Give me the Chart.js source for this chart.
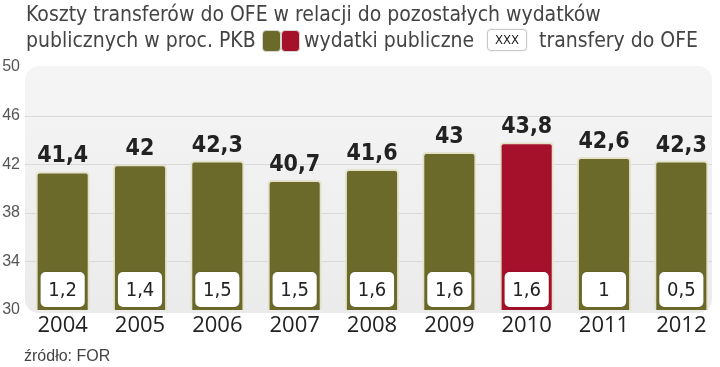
<!DOCTYPE html>
<html>
<head>
<meta charset="utf-8">
<script src="https://cdn.jsdelivr.net/npm/chart.js@4/dist/chart.umd.min.js"></script>
<style>
  html, body { margin: 0; padding: 0; background: #fff; }
  #wrap { position: relative; width: 720px; height: 367px; overflow: hidden; }
  canvas { position: absolute; left: 0; top: 0; }
  .t { position: absolute; white-space: nowrap; font-family: 'DejaVu Sans Condensed', 'Liberation Sans', sans-serif; font-size: 21px; color: #444; line-height: 1; }
  .sw { position: absolute; top: 30px; width: 17px; height: 20px; border: 1.5px solid #d8d8d0; border-radius: 4px; box-sizing: content-box; }
  #xbox { position: absolute; left: 487px; top: 29px; width: 38px; height: 20px; border: 1.5px solid #c8c8c8; border-radius: 4px; background: #fff; font-family: 'DejaVu Sans Condensed', sans-serif; font-size: 13px; color: #222; text-align: center; line-height: 20px; box-shadow: 0 0 2px #ddd; }
  #src { position: absolute; left: 24px; top: 347px; font-family: 'Liberation Sans', Arial, sans-serif; font-size: 16px; color: #444; white-space: nowrap; }
</style>
</head>
<body>
<div id="wrap">
  <canvas id="c" width="720" height="367"></canvas>
  <div class="t" style="left:26px; top:4px;">Koszty transferów do OFE w relacji do pozostałych wydatków</div>
  <div class="t" style="left:26px; top:30px;">publicznych w proc. PKB</div>
  <div class="sw" style="left:262px; background:#6b6a2b;"></div>
  <div class="sw" style="left:281px; background:#a5102b;"></div>
  <div class="t" style="left:304px; top:30px;">wydatki publiczne</div>
  <div id="xbox">XXX</div>
  <div class="t" style="left:539px; top:30px;">transfery do OFE</div>
  <div id="src">źródło: FOR</div>
</div>
<script>
const years = ['2004','2005','2006','2007','2008','2009','2010','2011','2012'];
const publicSpending = [41.4, 42, 42.3, 40.7, 41.6, 43, 43.8, 42.6, 42.3];
const ofeTransfers = [1.2, 1.4, 1.5, 1.5, 1.6, 1.6, 1.6, 1, 0.5];
const yTicks = [30, 34, 38, 42, 46, 50];
const gridValues = [34, 38, 42, 46];
const highlightYear = '2010';

const OLIVE = '#6b6a2b';
const RED = '#a5102b';
const fmt = v => String(v).replace('.', ',');

const bgPlugin = {
  id: 'bg',
  beforeDraw(chart) {
    const { ctx, chartArea: a, scales } = chart;
    const x = a.left + 1, y = a.top - 1, w = a.right - 8 - x, h = a.bottom + 3 - y;
    const g = ctx.createLinearGradient(0, y, 0, y + h);
    g.addColorStop(0, '#f5f5f5');
    g.addColorStop(1, '#ebebeb');
    ctx.save();
    ctx.fillStyle = g;
    ctx.beginPath();
    ctx.roundRect(x, y, w, h, 14);
    ctx.fill();
    ctx.strokeStyle = '#d9d9d9';
    ctx.lineWidth = 1;
    gridValues.forEach(v => {
      const py = Math.round(scales.y.getPixelForValue(v)) + 0.5;
      ctx.beginPath();
      ctx.moveTo(x, py);
      ctx.lineTo(x + w, py);
      ctx.stroke();
    });
    ctx.restore();
  }
};

const labelPlugin = {
  id: 'labels',
  afterDatasetsDraw(chart) {
    const { ctx, scales } = chart;
    const meta = chart.getDatasetMeta(0);
    const basePx = scales.y.getPixelForValue(scales.y.min);
    ctx.save();
    meta.data.forEach((bar, i) => {
      const p = bar.getProps(['x', 'y', 'width'], true);
      const half = p.width / 2;
      ctx.fillStyle = '#222';
      ctx.font = 'bold 23px "DejaVu Sans Condensed", sans-serif';
      ctx.textAlign = 'center';
      ctx.textBaseline = 'alphabetic';
      ctx.fillText(fmt(publicSpending[i]), p.x, p.y - 9);
      const bx = p.x - half + 5, bw = p.width - 10;
      const bb = basePx - 3, bt = bb - 35;
      ctx.fillStyle = '#ffffff';
      ctx.shadowColor = 'rgba(0,0,0,0.18)';
      ctx.shadowBlur = 2;
      ctx.beginPath();
      ctx.roundRect(bx, bt, bw, bb - bt, 5);
      ctx.fill();
      ctx.shadowColor = 'rgba(0,0,0,0)';
      ctx.shadowBlur = 0;
      ctx.fillStyle = '#222';
      ctx.font = '20px "DejaVu Sans Condensed", sans-serif';
      ctx.textBaseline = 'middle';
      ctx.fillText(fmt(ofeTransfers[i]), p.x, (bt + bb) / 2 + 1);
    });
    ctx.restore();
  }
};

new Chart(document.getElementById('c'), {
  type: 'bar',
  data: {
    labels: years,
    datasets: [{
      data: publicSpending,
      backgroundColor: years.map(y => y === highlightYear ? RED : OLIVE),
      borderColor: '#e4e2c8',
      borderWidth: 2,
      borderRadius: 4,
      borderSkipped: false,
      barPercentage: 0.7,
      categoryPercentage: 1
    }]
  },
  options: {
    responsive: false,
    animation: false,
    events: [],
    layout: { padding: { top: 67, right: 0, left: 0, bottom: 0 } },
    plugins: { legend: { display: false }, tooltip: { enabled: false } },
    scales: {
      x: {
        grid: { display: false, drawTicks: false },
        border: { display: false },
        ticks: { color: '#222', font: { family: '"Open Sans", sans-serif', size: 22 }, padding: 3, maxRotation: 0 },
        afterFit(s) { s.height = 57; }
      },
      y: {
        min: 30, max: 50,
        afterBuildTicks(s) { s.ticks = yTicks.map(v => ({ value: v })); },
        grid: { display: false, drawTicks: false },
        border: { display: false },
        ticks: { color: '#555', font: { family: '"Liberation Sans", sans-serif', size: 16 }, padding: 4 },
        afterFit(s) { s.width = 24; }
      }
    }
  },
  plugins: [bgPlugin, labelPlugin]
});
</script>
</body>
</html>
